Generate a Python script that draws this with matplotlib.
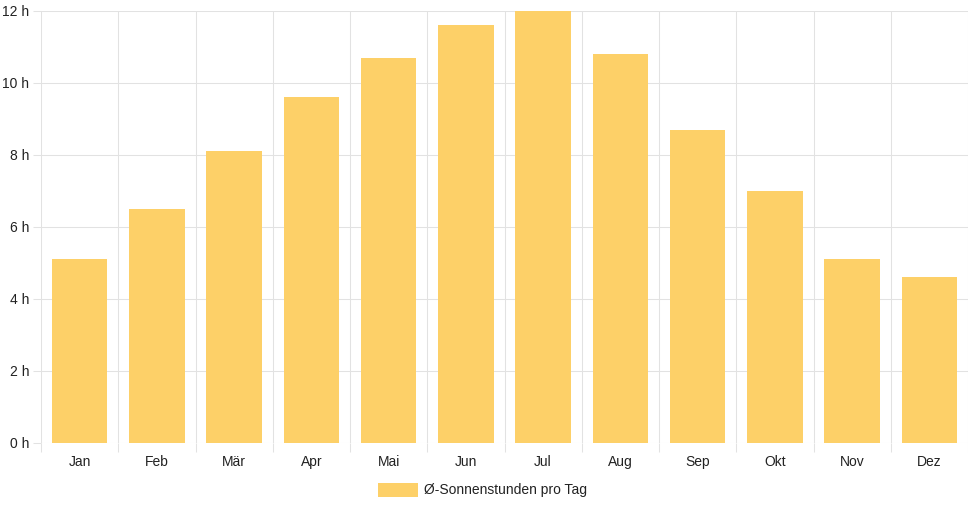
import matplotlib
matplotlib.use("Agg")
import matplotlib.pyplot as plt
from matplotlib.patches import Rectangle
import numpy as np

months = ["Jan", "Feb", "Mär", "Apr", "Mai", "Jun", "Jul", "Aug", "Sep", "Okt", "Nov", "Dez"]
sun_hours = [5.1, 6.5, 8.1, 9.6, 10.7, 11.6, 12.0, 10.8, 8.7, 7.0, 5.1, 4.6]
y_ticks = [0, 2, 4, 6, 8, 10, 12]
y_labels = [f"{v} h" for v in y_ticks]
legend_label = "Ø-Sonnenstunden pro Tag"

bar_color = "#FDD068"
grid_color = "#E2E2E2"
text_color = "#222222"
fs = 10.0

plt.rcParams["font.family"] = ["Liberation Sans", "DejaVu Sans"]

W, H = 968, 508
fig = plt.figure(figsize=(W / 100, H / 100), dpi=100)
ax = fig.add_axes([41 / W, (H - 443) / H, 927 / W, 432 / H])

x = np.arange(len(months))
ax.bar(x, sun_hours, width=0.72, color=bar_color, zorder=2, label=legend_label)

ax.set_xlim(-0.5, len(months) - 0.5)
ax.set_ylim(0, 12)

# grid
for v in y_ticks:
    ax.axhline(v, color=grid_color, lw=0.75, zorder=1)
for b in np.arange(-0.5, len(months), 1.0):
    ax.axvline(b, color=grid_color, lw=0.75, zorder=1)

ax.set_yticks(y_ticks)
ax.set_yticklabels(y_labels)
ax.set_xticks(x)
ax.set_xticklabels(months)
ax.tick_params(axis="y", length=6, width=0.75, color=grid_color, labelsize=fs,
               labelcolor=text_color, pad=2.5)
ax.tick_params(axis="x", length=0, labelsize=fs, labelcolor=text_color, pad=8.5)

# minor ticks at category boundaries extending below axis
ax.set_xticks(np.arange(-0.5, len(months), 1.0), minor=True)
ax.tick_params(axis="x", which="minor", length=6.5, width=0.75, color=grid_color)

for s in ax.spines.values():
    s.set_visible(False)

# legend
fig.patches.append(Rectangle((378 / W, (H - 497) / H), 40 / W, 14 / H,
                             transform=fig.transFigure, facecolor=bar_color,
                             edgecolor="none"))
fig.text(424 / W, (H - 490) / H, legend_label, ha="left", va="center",
         fontsize=fs, color=text_color)

fig.savefig("out.png", dpi=100)
